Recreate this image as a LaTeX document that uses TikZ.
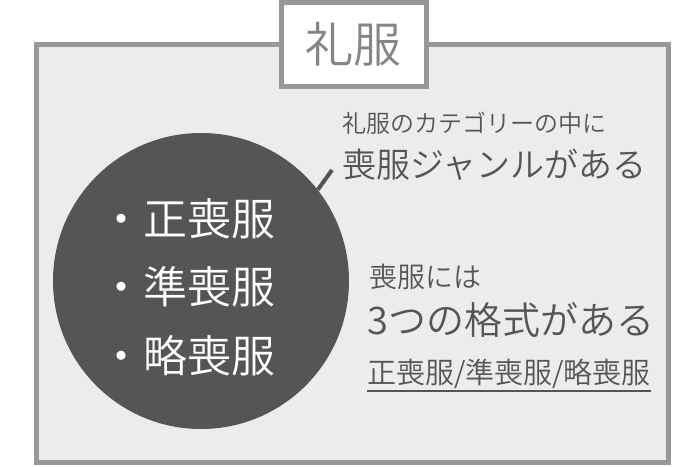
\documentclass[tikz,border=0pt]{standalone}
\usepackage{fontspec}
\IfFontExistsTF{Noto Sans CJK JP DemiLight}
	{\setmainfont{Noto Sans CJK JP DemiLight}}
	{\setmainfont{Noto Sans CJK JP}}
\usepackage{tikz}
\usetikzlibrary{positioning}
\usepackage{xcolor}
\definecolor{framegray}{HTML}{989898}
\definecolor{panelgray}{HTML}{ECECEC}
\definecolor{darkgray}{HTML}{555555}
\definecolor{titlegray}{HTML}{858585}
\tikzset{
	frame/.style={draw=framegray, line width=5pt, fill=panelgray},
	titlebox/.style={draw=framegray, line width=5pt, fill=white, minimum width=145pt, minimum height=84pt, inner sep=0pt, text=titlegray, font=\fontsize{48}{48}\selectfont},
	item/.style={anchor=west, inner sep=0pt, text=white, font=\fontsize{44}{44}\selectfont},
	note/.style={anchor=west, inner sep=0pt, text=darkgray, font=\fontsize{#1}{#1}\selectfont}
}

\begin{document}
\begin{tikzpicture}[x=1pt, y=-1pt]
	\useasboundingbox (0, 0) rectangle (700, 466);

	\draw[frame] (36, 44) rectangle (668, 462);
	\node[titlebox] (reifuku) at (353.5, 44) {礼服};

	\node[circle, fill=darkgray, minimum size=296pt, inner sep=0pt] (mofuku) at (201, 281) {};
	\node[item] (sei) at (99, 219) {・正喪服};
	\node[item] (jun) at (99, 287) {・準喪服};
	\node[item] (ryaku) at (99, 356) {・略喪服};

	\coordinate (tip) at (332, 170);
	\draw[darkgray, line width=4pt] (mofuku.38.6) -- (tip);

	\node[note=24] (category) at (342, 123) {礼服のカテゴリーの中に};
	\node[note=34] (genre) at (342, 165) {喪服ジャンルがある};

	\node[note=28] (niwa) at (369, 277) {喪服には};
	\node[note=38] (kakushiki) at (367, 320) {3つの格式がある};
	\node[note=29] (list) at (367, 374) {正喪服/準喪服/略喪服};
	\draw[darkgray, line width=2pt] ([yshift=-1.5pt]list.south west) -- ([yshift=-1.5pt]list.south east);

\end{tikzpicture}
\end{document}
